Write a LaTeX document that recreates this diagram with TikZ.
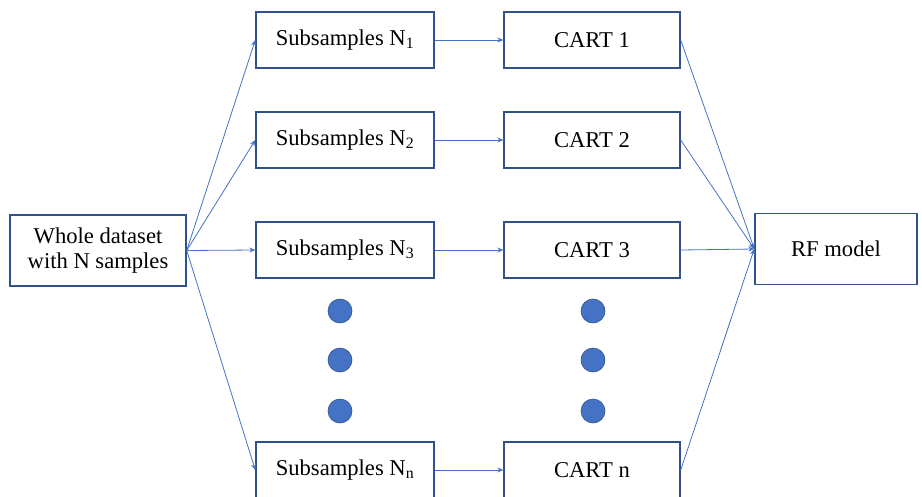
\documentclass[tikz,border=0pt]{standalone}
\usepackage{fontspec}
\setmainfont{Liberation Serif}
\usetikzlibrary{arrows.meta}
\definecolor{boxedge}{HTML}{2F528F}
\definecolor{arrowblue}{HTML}{4472C4}
\begin{document}
\begin{tikzpicture}[x=1pt,y=-1pt,
  box/.style={draw=boxedge,line width=1.4pt,fill=white,minimum height=56pt,inner sep=0pt,font=\fontsize{22.6}{25}\selectfont,align=center},
  sub/.style={box,minimum width=178pt},
  cart/.style={box,minimum width=176pt},
  conn/.style={draw=arrowblue,line width=0.8pt,-{Stealth[length=6pt,width=5pt]}},
  blob/.style={circle,fill=arrowblue,draw=boxedge,line width=0.6pt,minimum size=24pt,inner sep=0pt}]
\useasboundingbox (0,0) rectangle (922,496);
\node[box,minimum width=176pt,minimum height=71pt] (whole) at (98,250.5) {Whole dataset\\with N samples};
\node[sub] (s1) at (345,40) {Subsamples N\textsubscript{1}};
\node[sub] (s2) at (345,140) {Subsamples N\textsubscript{2}};
\node[sub] (s3) at (345,250) {Subsamples N\textsubscript{3}};
\node[sub] (sn) at (345,470) {Subsamples N\textsubscript{n}};
\node[cart] (c1) at (592,40) {CART 1};
\node[cart] (c2) at (592,140) {CART 2};
\node[cart] (c3) at (592,250) {CART 3};
\node[cart] (cn) at (592,470) {CART n};
\node[box,minimum width=162pt,minimum height=71pt] (rf) at (836,249) {RF model};
\node[blob] (d1) at (340,311) {};
\node[blob] (d2) at (340,360) {};
\node[blob] (d3) at (340,411) {};
\node[blob] (e1) at (593,311) {};
\node[blob] (e2) at (593,360) {};
\node[blob] (e3) at (593,411) {};
\foreach \s in {s1,s2,s3,sn}{\path[conn] (whole.east) -- (\s.west);}
\path[conn] (s1) -- (c1);
\path[conn] (s2) -- (c2);
\path[conn] (s3) -- (c3);
\path[conn] (sn) -- (cn);
\foreach \c in {c1,c2,c3,cn}{\path[conn] (\c.east) -- (rf.west);}
\end{tikzpicture}
\end{document}
